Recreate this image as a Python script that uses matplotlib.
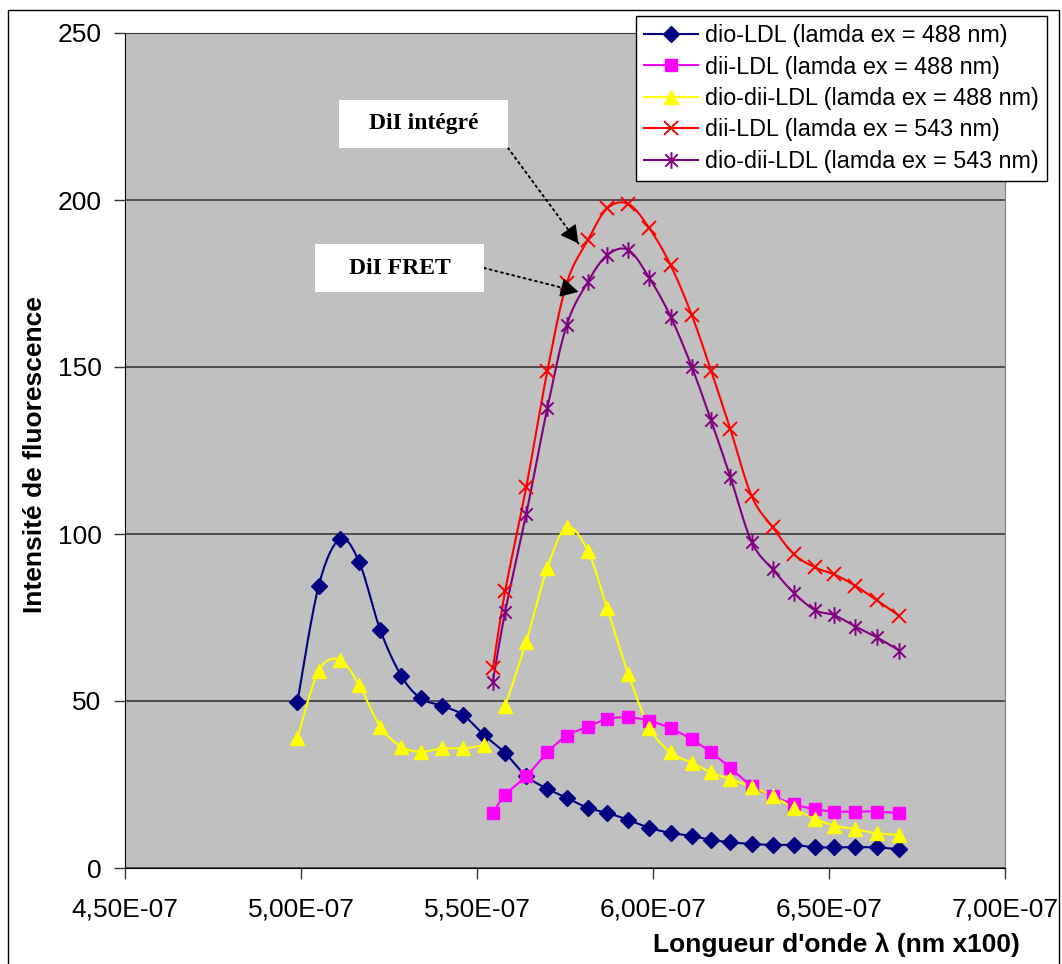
import numpy as np
import matplotlib
matplotlib.use("Agg")
import matplotlib.pyplot as plt
from matplotlib.lines import Line2D
from matplotlib.path import Path
from matplotlib.patches import Rectangle
from matplotlib.ticker import FuncFormatter, MultipleLocator

plt.rcParams["font.family"] = ["Liberation Sans", "DejaVu Sans"]

# wavelengths (nm)
wl_488 = [499, 505, 511, 516.5, 522.5, 528.5, 534, 540, 546, 552,
          558, 564, 570, 575.5, 581.5, 587, 593, 599, 605, 611,
          616.5, 622, 628, 634, 640, 646, 651.5, 657.5, 663.5, 670]
wl_543 = [554.5, 558, 564, 570, 575.5, 581.5, 587, 593, 599, 605, 611,
          616.5, 622, 628, 634, 640, 646, 651.5, 657.5, 663.5, 670]
# yellow series has a gap at 554.5
wl_yellow = wl_488[:10] + [554.5] + wl_488[10:]

dio_ldl_488 = [49.8, 84.4, 98.4, 91.7, 71.3, 57.5, 50.8, 48.6, 45.8, 39.8,
               34.4, 27.5, 23.7, 21.0, 18.0, 16.5, 14.4, 12.0, 10.5, 9.6,
               8.4, 7.7, 7.2, 6.9, 6.9, 6.2, 6.2, 6.2, 6.2, 5.6]
dii_ldl_488 = [16.5, 21.9, 27.5, 34.6, 39.6, 42.3, 44.6, 45.1, 44.1, 41.8, 38.5,
               34.6, 30.0, 24.6, 21.6, 19.1, 17.6, 16.9, 16.9, 16.9, 16.4]
dio_dii_488 = [39.0, 59.0, 62.3, 54.8, 42.3, 36.3, 34.8, 35.8, 35.8, 36.8,
               np.nan,
               48.5, 67.8, 89.9, 102.0, 94.9, 77.7, 58.0, 42.0, 34.6, 31.5,
               28.6, 26.6, 24.3, 21.6, 17.9, 14.8, 12.7, 11.6, 10.4, 9.9]
dii_ldl_543 = [59.8, 82.9, 114.1, 148.9, 175.1, 188.0, 197.5, 198.8, 191.5, 180.5, 165.6,
               148.9, 131.3, 111.4, 102.0, 94.0, 90.0, 87.9, 84.5, 80.2, 75.5]
dio_dii_543 = [55.8, 76.7, 106.0, 137.8, 162.6, 175.5, 183.5, 185.0, 176.6, 165.1, 150.1,
               134.0, 117.0, 97.7, 89.4, 82.4, 77.2, 75.7, 72.3, 69.1, 65.1]

labels = ["dio-LDL (lamda ex = 488 nm)",
          "dii-LDL (lamda ex = 488 nm)",
          "dio-dii-LDL (lamda ex = 488 nm)",
          "dii-LDL (lamda ex = 543 nm)",
          "dio-dii-LDL (lamda ex = 543 nm)"]

# excel-like star marker: x plus a vertical bar
star = Path([(-1, -1), (1, 1), (-1, 1), (1, -1), (0, -1.35), (0, 1.35)],
            [Path.MOVETO, Path.LINETO, Path.MOVETO, Path.LINETO, Path.MOVETO, Path.LINETO])


def smooth(xs, ys, n=16):
    # excel style smoothed line (bezier through the points)
    x = np.asarray(xs, float)
    y = np.asarray(ys, float)
    out_x, out_y = [], []
    idx = np.flatnonzero(np.isfinite(y))
    runs = np.split(idx, np.flatnonzero(np.diff(idx) > 1) + 1)
    for r in runs:
        px, py = x[r], y[r]
        sx, sy = [px[0]], [py[0]]
        for i in range(len(px) - 1):
            i0 = max(i - 1, 0)
            i3 = min(i + 2, len(px) - 1)
            c1x = px[i] + (px[i + 1] - px[i0]) / 6
            c1y = py[i] + (py[i + 1] - py[i0]) / 6
            c2x = px[i + 1] - (px[i3] - px[i]) / 6
            c2y = py[i + 1] - (py[i3] - py[i]) / 6
            t = np.linspace(0, 1, n)[1:]
            a, b, c, d = (1 - t) ** 3, 3 * (1 - t) ** 2 * t, 3 * (1 - t) * t ** 2, t ** 3
            sx.extend(a * px[i] + b * c1x + c * c2x + d * px[i + 1])
            sy.extend(a * py[i] + b * c1y + c * c2y + d * py[i + 1])
        out_x.extend(sx + [np.nan])
        out_y.extend(sy + [np.nan])
    return out_x, out_y


series = [
    (wl_488, dio_ldl_488, "#000080", dict(marker="D", ms=8, mfc="#000080", mec="#000080")),
    (wl_543, dii_ldl_488, "#FF00FF", dict(marker="s", ms=8, mfc="#FF00FF", mec="#FF00FF")),
    (wl_yellow, dio_dii_488, "#FFFF00", dict(marker="^", ms=10.5, mfc="#FFFF00", mec="#FFFF00")),
    (wl_543, dii_ldl_543, "#FF0000", dict(marker="x", ms=10, mew=1.4, mec="#FF0000")),
    (wl_543, dio_dii_543, "#800080", dict(marker=star, ms=12, mew=1.4, mfc="none", mec="#800080")),
]

fig = plt.figure(figsize=(10.62, 9.64), dpi=100)
ax = fig.add_axes([125 / 1062, 96 / 964, 880 / 1062, 835 / 964])
ax.set_facecolor("#C0C0C0")

handles = []
for (xs, ys, col, mk), lab in zip(series, labels):
    sx, sy = smooth(xs, ys)
    ax.plot(sx, sy, color=col, lw=1.5, zorder=3)
    ax.plot(xs, ys, ls="none", zorder=4, **mk)
    handles.append(Line2D([], [], color=col, lw=1.5, **mk))

ax.set_xlim(450, 700)
ax.set_ylim(0, 250)
ax.xaxis.set_major_locator(MultipleLocator(50))
ax.yaxis.set_major_locator(MultipleLocator(50))
ax.xaxis.set_major_formatter(FuncFormatter(lambda v, p: ("%.2E" % (v * 1e-9)).replace(".", ",")))
ax.yaxis.grid(True, color="#3a3a3a", lw=1.2)
ax.set_axisbelow(True)
ax.tick_params(axis="both", labelsize=19, length=8, width=1, color="#333333")
ax.tick_params(axis="x", pad=13)
ax.tick_params(axis="y", pad=9)
for s in ["left", "bottom"]:
    ax.spines[s].set_color("black")
ax.spines["top"].set_color("#3a3a3a")
ax.spines["right"].set_color("#808080")

ax.set_xlabel("Longueur d'onde \u03bb (nm x100)", fontsize=19, fontweight="bold")
ax.xaxis.set_label_coords(0.809, -0.092)
ax.xaxis.label.set_va("center")
ax.set_ylabel("Intensité de fluorescence", fontsize=19, fontweight="bold")
ax.yaxis.set_label_coords(-0.102, 0.495)
ax.yaxis.label.set_va("center")

leg = ax.legend(handles, labels, loc="upper left",
                bbox_to_anchor=(636 / 1062, 1 - 16 / 964), bbox_transform=fig.transFigure,
                fontsize=16.8, frameon=True, fancybox=False, framealpha=1,
                edgecolor="black", borderaxespad=0, borderpad=0.35,
                handlelength=2.3, handletextpad=0.3, labelspacing=0.36)
leg.get_frame().set_linewidth(1.0)
leg.set_zorder(10)

# annotation boxes with dotted arrows
ann_font = dict(family=["Liberation Serif", "DejaVu Serif"], fontweight="bold", fontsize=17)
boxes = [("DiI intégré", 339, 100, (578.8, 187.0), 48),
         ("DiI FRET", 315, 244, (578.8, 172.5), 24)]
H = 964
for txt, bx, by, tip, ay in boxes:
    w, h = 169, 48
    fig.patches.append(Rectangle((bx / 1062, 1 - (by + h) / H), w / 1062, h / H,
                                 transform=fig.transFigure, facecolor="white",
                                 edgecolor="none", zorder=5))
    fig.text((bx + w / 2) / 1062, 1 - (by + h / 2) / H, txt, ha="center", va="center",
             zorder=6, **ann_font)
    start = ((bx + w) / 1062, 1 - (by + ay) / H)
    ax.annotate("", xy=tip, xycoords="data", xytext=start, textcoords="figure fraction",
                arrowprops=dict(arrowstyle="-", color="black", lw=1.4,
                                linestyle=(0, (1, 2)), shrinkA=0, shrinkB=0), zorder=7)
    # solid head: short segment ending at the tip, same direction
    tx, ty = ax.transData.transform(tip)
    sx0, sy0 = fig.transFigure.transform(start)
    d = np.array([tx - sx0, ty - sy0])
    d = d / np.hypot(*d) * 16 * 72 / fig.dpi
    ax.annotate("", xy=tip, xycoords="data", xytext=(-d[0], -d[1]), textcoords="offset points",
                arrowprops=dict(arrowstyle="-|>,head_length=0.55,head_width=0.3",
                                mutation_scale=20, color="black", lw=1.0,
                                shrinkA=0, shrinkB=0), zorder=7)

# outer chart border
fig.patches.append(Rectangle((8 / 1062, -0.01), 1051 / 1062, 1 - 10 / H + 0.01,
                             transform=fig.transFigure, fill=False, edgecolor="black", lw=1))

fig.savefig("out.png", dpi=100)
